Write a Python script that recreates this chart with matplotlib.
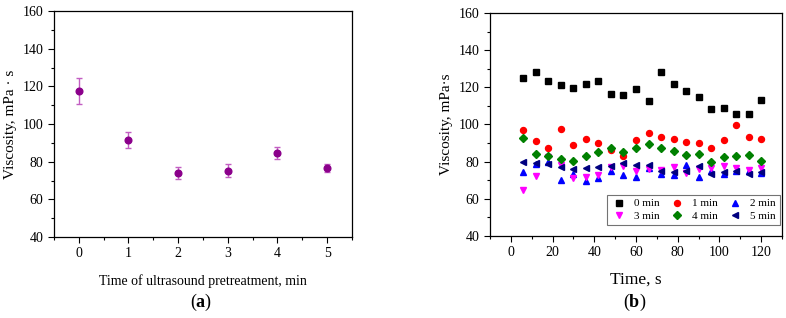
import matplotlib.pyplot as plt
import numpy as np
from matplotlib.ticker import MultipleLocator

plt.rcParams['font.family'] = ['Liberation Serif', 'DejaVu Serif']
plt.rcParams['mathtext.fontset'] = 'custom'
plt.rcParams['mathtext.rm'] = 'Liberation Serif'
plt.rcParams['mathtext.bf'] = 'Liberation Serif:bold'

# panel (a): mean viscosity vs pretreatment time
pre_time = [0, 1, 2, 3, 4, 5]
visc_mean = [117.5, 91.5, 74.0, 75.3, 84.5, 76.5]
visc_err = [7.0, 4.0, 3.0, 3.5, 3.2, 2.0]

# panel (b): viscosity over measurement time
t = [6, 12, 18, 24, 30, 36, 42, 48, 54, 60, 66, 72, 78, 84, 90, 96, 102, 108, 114, 120]
v0 = [124.9, 128.1, 123.5, 121.5, 119.7, 121.7, 123.3, 116.5, 116.1, 119.2,
      112.7, 128.3, 122.0, 117.9, 114.7, 108.4, 109.0, 105.9, 105.4, 113.3]
v1 = [97.0, 90.9, 87.5, 97.5, 89.1, 92.3, 90.2, 86.0, 83.3, 91.9,
      95.2, 93.0, 92.3, 90.5, 89.8, 87.5, 91.9, 99.5, 93.4, 92.3]
v2 = [74.5, 79.0, 80.0, 70.0, 73.5, 69.5, 71.0, 75.0, 73.0, 71.5,
      76.5, 73.5, 73.0, 78.0, 72.0, 75.0, 73.5, 75.0, 75.0, 74.0]
v3 = [65.0, 72.5, 82.5, 78.0, 71.0, 72.0, 73.0, 77.0, 77.5, 75.0,
      76.0, 75.5, 77.0, 74.0, 76.0, 76.5, 77.5, 76.5, 75.5, 76.5]
v4 = [92.5, 84.2, 83.3, 81.4, 80.3, 83.3, 85.3, 87.1, 85.3, 87.3,
      89.3, 87.5, 85.9, 83.7, 84.1, 79.8, 82.3, 83.2, 83.5, 80.5]
v5 = [80.0, 79.4, 78.5, 77.3, 76.0, 76.7, 76.9, 77.8, 79.4, 78.3,
      78.3, 75.0, 74.4, 75.0, 77.8, 73.5, 74.6, 74.7, 73.1, 74.6]
series = [v0, v1, v2, v3, v4, v5]
labels = ['0 min', '1 min', '2 min', '3 min', '4 min', '5 min']
colors = ['black', 'red', 'blue', 'magenta', 'green', 'navy']
markers = ['s', 'o', '^', 'v', 'D', '<']
sizes = [4, 4.3, 4.5, 4.5, 3.8, 4.5]

fig = plt.figure(figsize=(7.86, 3.18), dpi=100)
ax_a = fig.add_axes([0.0687, 0.2547, 0.3791, 0.7107])
ax_b = fig.add_axes([0.6234, 0.2579, 0.3715, 0.7013])

# (a)
ax_a.errorbar(pre_time, visc_mean, yerr=visc_err, fmt='o', color='#8b008b',
              ecolor='#c25ec2', elinewidth=1, capsize=2.5, capthick=1, ms=4.8)
ax_a.set_xlim(-0.5, 5.5)
ax_a.set_xticks(pre_time)
ax_a.xaxis.set_minor_locator(MultipleLocator(0.5))
ax_a.set_xlabel('Time of ultrasound pretreatment, min', fontsize=10, labelpad=10)
ax_a.set_ylabel('Viscosity, mPa · s', fontsize=11, labelpad=4)

# (b)
handles = []
for vals, lab, c, m, s in zip(series, labels, colors, markers, sizes):
    h, = ax_b.plot(t, vals, linestyle='none', marker=m, color=c, ms=s, label=lab)
    handles.append(h)
ax_b.set_xlim(-10, 130)
ax_b.set_xticks(np.arange(0, 121, 20))
ax_b.xaxis.set_minor_locator(MultipleLocator(10))
ax_b.set_xlabel('Time, s', fontsize=12.5, labelpad=9)
ax_b.set_ylabel('Viscosity, mPa·s', fontsize=11, labelpad=4)
order = [0, 3, 1, 4, 2, 5]
leg = ax_b.legend([handles[i] for i in order], [labels[i] for i in order], ncol=3,
                  loc='lower right', bbox_to_anchor=(1.0, 0.04), fontsize=8,
                  fancybox=False, edgecolor='0.45', framealpha=1,
                  handletextpad=0.6, columnspacing=0.8, borderpad=0.35,
                  labelspacing=0.25, handlelength=1.5, borderaxespad=0.2)
leg.get_frame().set_linewidth(0.8)

for ax in (ax_a, ax_b):
    ax.set_ylim(40, 160)
    ax.set_yticks(np.arange(40, 161, 20))
    ax.yaxis.set_minor_locator(MultipleLocator(10))
    ax.tick_params(which='major', direction='out', length=4, width=0.8,
                   labelsize=10, top=False, right=False)
    ax.tick_params(which='minor', direction='out', length=2, width=0.8,
                   top=False, right=False)
    for sp in ax.spines.values():
        sp.set_linewidth(0.9)

fig.text(0.256, 0.05, r'($\mathbf{a}$)', fontsize=13, ha='center', va='center')
fig.text(0.808, 0.05, r'($\mathbf{b}$)', fontsize=13, ha='center', va='center')

fig.savefig('out.png', dpi=100)
